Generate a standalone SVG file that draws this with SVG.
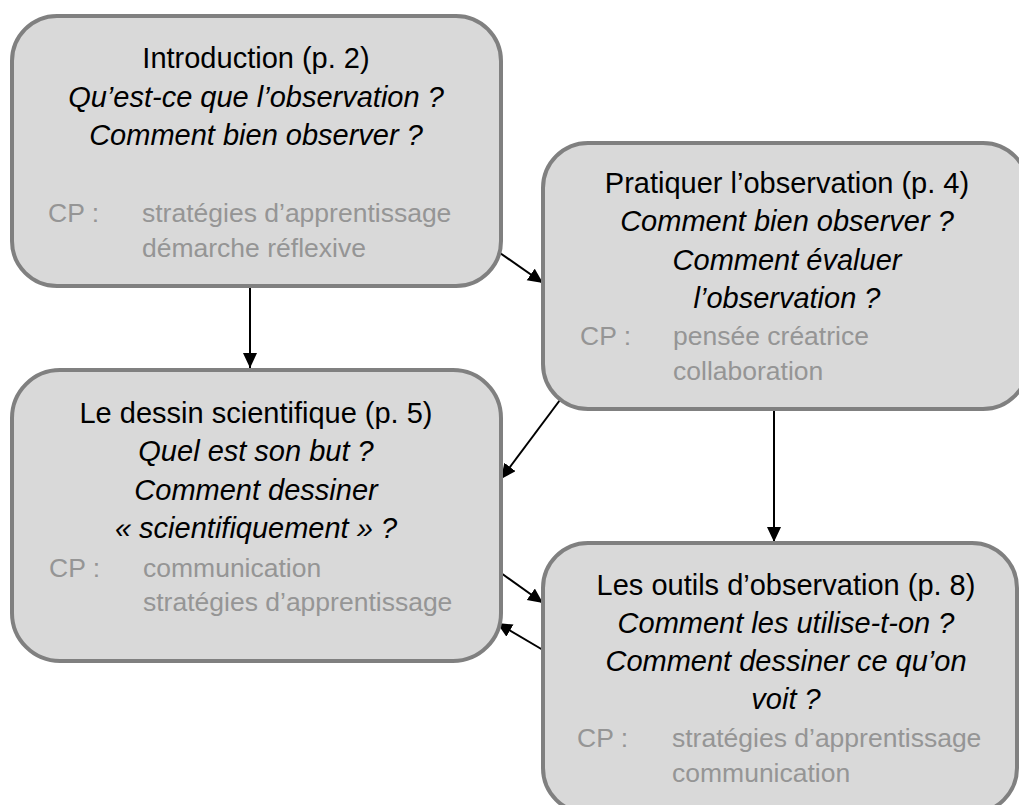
<svg xmlns="http://www.w3.org/2000/svg" width="1019" height="805" viewBox="0 0 1019 805">
<style>
.box{fill:#d9d9d9;stroke:#808080;stroke-width:4}
.t{font-family:"Liberation Sans",Arial,sans-serif;font-size:29px;fill:#000;text-anchor:middle}
.i{font-style:italic}
.cp{font-family:"Liberation Sans",Arial,sans-serif;font-size:26.5px;fill:#959595}
.c{stroke:#000;stroke-width:2;fill:none;marker-end:url(#ah)}
</style>
<defs>
<marker id="ah" markerUnits="userSpaceOnUse" markerWidth="16" markerHeight="15" refX="15" refY="7" orient="auto">
<path d="M0,0 L15,7 L0,14 z" fill="#000"/>
</marker>
</defs>
<rect width="1019" height="805" fill="#fff"/>
<g id="connectors">
<line class="c" x1="250" y1="287" x2="250" y2="368"/>
<line class="c" x1="500" y1="253" x2="543" y2="283"/>
<line class="c" x1="560" y1="400" x2="501" y2="479"/>
<line class="c" x1="774" y1="410" x2="774" y2="542"/>
<line class="c" x1="501" y1="573" x2="543" y2="603"/>
<line class="c" x1="543" y1="650" x2="497" y2="623"/>
</g>
<g id="intro">
<rect class="box" x="12" y="16" width="489" height="270" rx="45"/>
<text class="t" x="256" y="68">Introduction (p. 2)</text>
<text class="t i" x="256" y="107">Qu’est-ce que l’observation ?</text>
<text class="t i" x="256" y="145">Comment bien observer ?</text>
<text class="cp" x="48" y="222">CP :</text>
<text class="cp" x="142" y="222">stratégies d’apprentissage</text>
<text class="cp" x="142" y="257">démarche réflexive</text>
</g>
<g id="pratiquer">
<rect class="box" x="543" y="143" width="485" height="266" rx="45"/>
<text class="t" x="787" y="193">Pratiquer l’observation (p. 4)</text>
<text class="t i" x="787" y="231">Comment bien observer ?</text>
<text class="t i" x="787" y="270">Comment évaluer</text>
<text class="t i" x="787" y="308">l’observation ?</text>
<text class="cp" x="580" y="345">CP :</text>
<text class="cp" x="673" y="345">pensée créatrice</text>
<text class="cp" x="673" y="380">collaboration</text>
</g>
<g id="dessin">
<rect class="box" x="12" y="370" width="489" height="291" rx="48"/>
<text class="t" x="256" y="423">Le dessin scientifique (p. 5)</text>
<text class="t i" x="256" y="461">Quel est son but ?</text>
<text class="t i" x="256" y="500">Comment dessiner</text>
<text class="t i" x="256" y="538">« scientifiquement » ?</text>
<text class="cp" x="49" y="577">CP :</text>
<text class="cp" x="143" y="577">communication</text>
<text class="cp" x="143" y="611">stratégies d’apprentissage</text>
</g>
<g id="outils">
<rect class="box" x="543" y="543" width="474" height="270" rx="45"/>
<text class="t" x="786" y="595">Les outils d’observation (p. 8)</text>
<text class="t i" x="786" y="633">Comment les utilise-t-on ?</text>
<text class="t i" x="786" y="671">Comment dessiner ce qu’on</text>
<text class="t i" x="786" y="709">voit ?</text>
<text class="cp" x="577" y="747">CP :</text>
<text class="cp" x="672" y="747">stratégies d’apprentissage</text>
<text class="cp" x="672" y="782">communication</text>
</g>
</svg>
